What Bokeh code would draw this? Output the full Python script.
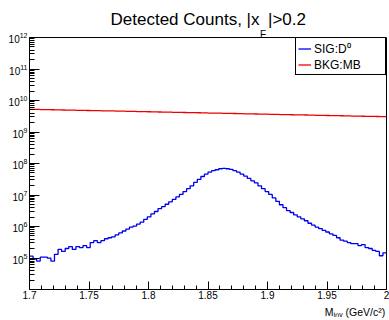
import json
from bokeh.plotting import figure
from bokeh.models import (Range1d, FixedTicker, CustomJSTickFormatter, LogTickFormatter,
                          Legend, LegendItem, Title, LinearAxis)
from bokeh.embed import file_html
from bokeh.resources import INLINE

# ---------------- data ----------------
bin_lo, bin_hi, n_bins = 1.7, 2.0, 100

sig_counts = [
    1.14e5, 9.2e4, 8.0e4, 1.06e5, 1.06e5, 9.9e4, 8.0e4, 1.31e5, 1.87e5, 1.62e5,
    2.0e5, 2.31e5, 1.87e5, 2.31e5, 2.15e5, 2.48e5, 2.15e5, 3.08e5, 3.54e5, 3.08e5,
    3.54e5, 4.08e5, 4.39e5, 4.71e5, 5.43e5, 6.25e5, 7.21e5, 8.3e5, 9.6e5, 1.03e6,
    1.19e6, 1.37e6, 1.69e6, 2.02e6, 2.50e6, 2.99e6, 3.70e6, 4.27e6, 5.09e6, 6.08e6,
    7.26e6, 8.67e6, 1.04e7, 1.28e7, 1.59e7, 1.96e7, 2.52e7, 3.12e7, 3.86e7, 4.61e7,
    5.31e7, 5.91e7, 6.34e7, 6.81e7, 6.97e7, 6.81e7, 6.49e7, 5.91e7, 5.31e7, 4.61e7,
    4.00e7, 3.35e7, 2.81e7, 2.43e7, 1.96e7, 1.59e7, 1.28e7, 1.04e7, 8.07e6, 6.30e6,
    4.91e6, 3.97e6, 3.21e6, 2.78e6, 2.33e6, 2.02e6, 1.75e6, 1.52e6, 1.27e6, 1.10e6,
    9.6e5, 8.6e5, 7.5e5, 6.7e5, 5.8e5, 5.2e5, 4.39e5, 3.67e5, 3.42e5, 3.08e5,
    2.86e5, 2.86e5, 2.48e5, 2.67e5, 2.15e5, 2.0e5, 1.74e5, 1.62e5, 1.18e5, 1.46e5,
]

bkg_counts = [v * 1e9 for v in [
    5.25, 5.22, 5.26, 5.17, 5.14, 5.11, 5.08, 5.07, 5.03, 5.00,
    4.97, 4.95, 4.92, 4.89, 4.87, 4.84, 4.82, 4.79, 4.77, 4.74,
    4.71, 4.69, 4.66, 4.66, 4.62, 4.59, 4.57, 4.54, 4.52, 4.49,
    4.46, 4.44, 4.42, 4.39, 4.37, 4.35, 4.32, 4.30, 4.28, 4.25,
    4.22, 4.21, 4.18, 4.16, 4.14, 4.12, 4.10, 4.08, 4.06, 4.02,
    4.00, 3.98, 3.96, 3.95, 3.92, 3.90, 3.88, 3.86, 3.84, 3.81,
    3.78, 3.77, 3.75, 3.73, 3.71, 3.69, 3.67, 3.65, 3.63, 3.61,
    3.58, 3.57, 3.55, 3.53, 3.51, 3.49, 3.48, 3.46, 3.44, 3.41,
    3.39, 3.38, 3.36, 3.34, 3.32, 3.31, 3.29, 3.28, 3.25, 3.23,
    3.21, 3.20, 3.18, 3.16, 3.15, 3.13, 3.12, 3.10, 3.08, 3.06,
]]

x_major_ticks = [1.7, 1.75, 1.8, 1.85, 1.9, 1.95, 2.0]
y_labelled_decades = [5, 6, 7, 8, 9, 10, 11, 12]
series_names = ["SIG:D\u2070", "BKG:MB"]
title_main = "Detected Counts, |x\u2002|>0.2"
title_head = "Detected Counts, |x"   # part before the subscript (for its offset)
title_sub = "F"
x_title = "M\u1d62\u2099\u1d65 (GeV/c\u00b2)"

# ---------------- layout ----------------
W, H = 389, 320
FL, FR, FT, FB = 29, 386, 37, 296
FONT = "Liberation Sans"
TITLE_PX = 17
ADV = {"D": 722, "e": 556, "t": 278, "c": 500, "d": 556, " ": 278, "C": 722,
       "o": 556, "u": 556, "n": 556, "s": 500, ",": 278, "|": 260, "x": 500}
head_w = sum(ADV[ch] for ch in title_head) / 1000 * TITLE_PX

p = figure(width=W, height=H, x_range=Range1d(bin_lo, bin_hi),
           y_range=Range1d(1e4, 1e12), y_axis_type="log",
           output_backend="svg", toolbar_location=None, title_location=None,
           min_border_left=FL, min_border_right=W - FR,
           min_border_top=FT, min_border_bottom=H - FB)
p.grid.visible = False
p.background_fill_color = "white"
p.border_fill_color = "white"
p.outline_line_color = "black"
p.outline_line_width = 1

width = (bin_hi - bin_lo) / n_bins
edges = [bin_lo + i * width for i in range(n_bins + 1)]

r_sig = p.step(edges, sig_counts + [sig_counts[-1]], mode="after",
               line_color="#0000ee", line_width=1.3)
r_bkg = p.step(edges, bkg_counts + [bkg_counts[-1]], mode="after",
               line_color="#ee0000", line_width=1.3)

# x axis
xa = p.xaxis[0]
minor_x = [round(1.7 + 0.01 * i, 2) for i in range(31)]
xa.ticker = FixedTicker(ticks=x_major_ticks, minor_ticks=minor_x)
xa.formatter = CustomJSTickFormatter(
    code="return tick.toFixed(2).replace(/0+$/,'').replace(/\\.$/,'');")
xa.axis_line_color = "black"
xa.major_tick_in = 8
xa.major_tick_out = 0
xa.minor_tick_in = 4
xa.minor_tick_out = 0
xa.major_tick_line_color = "black"
xa.minor_tick_line_color = "black"
xa.major_label_standoff = 1
xa.major_label_text_font = FONT
xa.major_label_text_font_size = "10px"
xa.major_label_text_color = "black"

# x-axis title, right-aligned at the axis end (ROOT style): a label-only axis row
title_px_w = 63
x_title_pos = bin_lo + ((FR - title_px_w / 2) - FL) / (FR - FL) * (bin_hi - bin_lo)
xt = LinearAxis(ticker=FixedTicker(ticks=[x_title_pos]),
                formatter=CustomJSTickFormatter(code="return " + json.dumps(x_title) + ";"),
                axis_line_color=None, major_tick_line_color=None,
                minor_tick_line_color=None, major_label_standoff=-2,
                major_label_text_font=FONT, major_label_text_font_size="10.5px",
                major_label_text_color="black")
p.add_layout(xt, "below")

# y axis
ya = p.yaxis[0]
minor_y = [m * 10 ** k for k in range(4, 12) for m in range(2, 10)]
ya.ticker = FixedTicker(ticks=[10 ** k for k in y_labelled_decades], minor_ticks=minor_y)
ya.formatter = LogTickFormatter()
ya.axis_line_color = "black"
ya.major_tick_in = 10
ya.major_tick_out = 0
ya.minor_tick_in = 5
ya.minor_tick_out = 0
ya.major_tick_line_color = "black"
ya.minor_tick_line_color = "black"
ya.major_label_standoff = 2
ya.major_label_text_font = FONT
ya.major_label_text_font_size = "10px"
ya.major_label_text_color = "black"

# title rows (subscript row first = closest to frame)
main_offset = 81
t_sub = Title(text=title_sub, align="left", offset=main_offset + head_w + 0.5,
              standoff=-4.3, text_font=FONT, text_font_size="10px",
              text_font_style="normal", text_color="black")
t_main = Title(text=title_main, align="left", offset=main_offset, standoff=0,
               text_font=FONT, text_font_size=f"{TITLE_PX}px", text_font_style="normal",
               text_color="black")
p.add_layout(t_sub, "above")
p.add_layout(t_main, "above")

# legend, pinned to the top-right corner of the frame
legend = Legend(items=[LegendItem(label=series_names[0], renderers=[r_sig]),
                       LegendItem(label=series_names[1], renderers=[r_bkg])],
                location="top_right", orientation="vertical",
                padding=2, spacing=0, margin=0,
                label_height=15, glyph_height=15, glyph_width=13,
                label_standoff=3, label_width=69,
                label_text_font=FONT, label_text_font_size="12px",
                label_text_color="black",
                border_line_color="black", border_line_width=1,
                border_line_alpha=1.0,
                background_fill_color="white", background_fill_alpha=1.0)
p.add_layout(legend)

open("out.html", "w").write(file_html(p, INLINE))
